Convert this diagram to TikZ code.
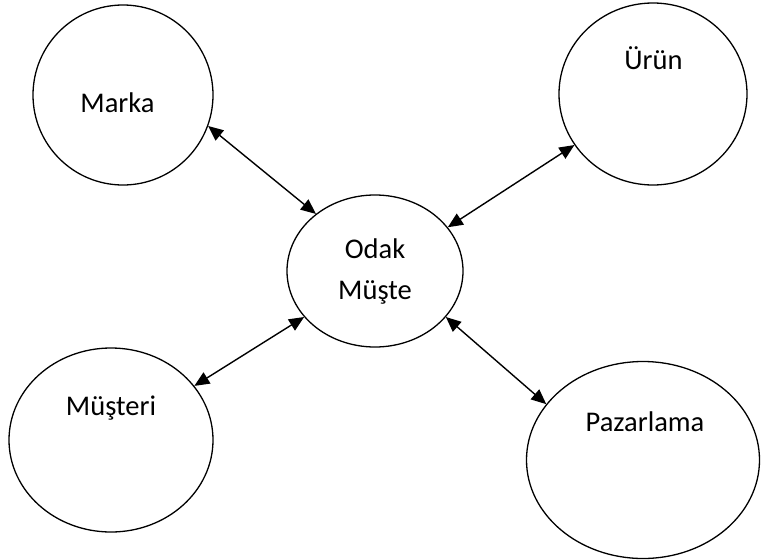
\documentclass[tikz,border=0pt]{standalone}
\usepackage{fontspec}
\setmainfont{Carlito}
\usetikzlibrary{arrows.meta,shapes.geometric}
\tikzset{
  bubble/.style={ellipse, draw=black, line width=1.3pt, inner sep=0pt},
  bubble text/.style={font=\fontsize{28.5}{41}\selectfont, text=black, anchor=base, inner sep=0pt},
  link/.style={draw=black, line width=1.4pt, {Triangle[length=15pt,width=13pt]}-{Triangle[length=15pt,width=13pt]}},
}

\begin{document}
\begin{tikzpicture}[x=1pt,y=-1pt]
  \useasboundingbox (0,0) rectangle (761,560);
  % circles
  \node[bubble, minimum width=180pt, minimum height=180pt] (marka) at (123,95) {};
  \node[bubble, minimum width=188pt, minimum height=182pt] (urun) at (653,94) {};
  \node[bubble, minimum width=204pt, minimum height=184pt] (musteri) at (111,440) {};
  \node[bubble, minimum width=233pt, minimum height=197pt] (pazarlama) at (643,460) {};
  \node[bubble, minimum width=176pt, minimum height=152pt, align=center,
        font=\fontsize{28.5}{41}\selectfont] (odak) at (375,271) {Odak\\Müşte};
  % texts
  \node[bubble text] (markatext) at (117.5,112) {Marka};
  \node[bubble text] (uruntext) at (653.5,69) {Ürün};
  \node[bubble text] (musteritext) at (111,415) {Müşteri};
  \node[bubble text] (pazarlamatext) at (645,431) {Pazarlama};
  % links
  \draw[link] (marka.-20) -- (odak.136);
  \draw[link] (urun.213) -- (odak.31);
  \draw[link] (musteri.33) -- (odak.213);
  \draw[link] (pazarlama.150) -- (odak.-33);
\end{tikzpicture}
\end{document}
